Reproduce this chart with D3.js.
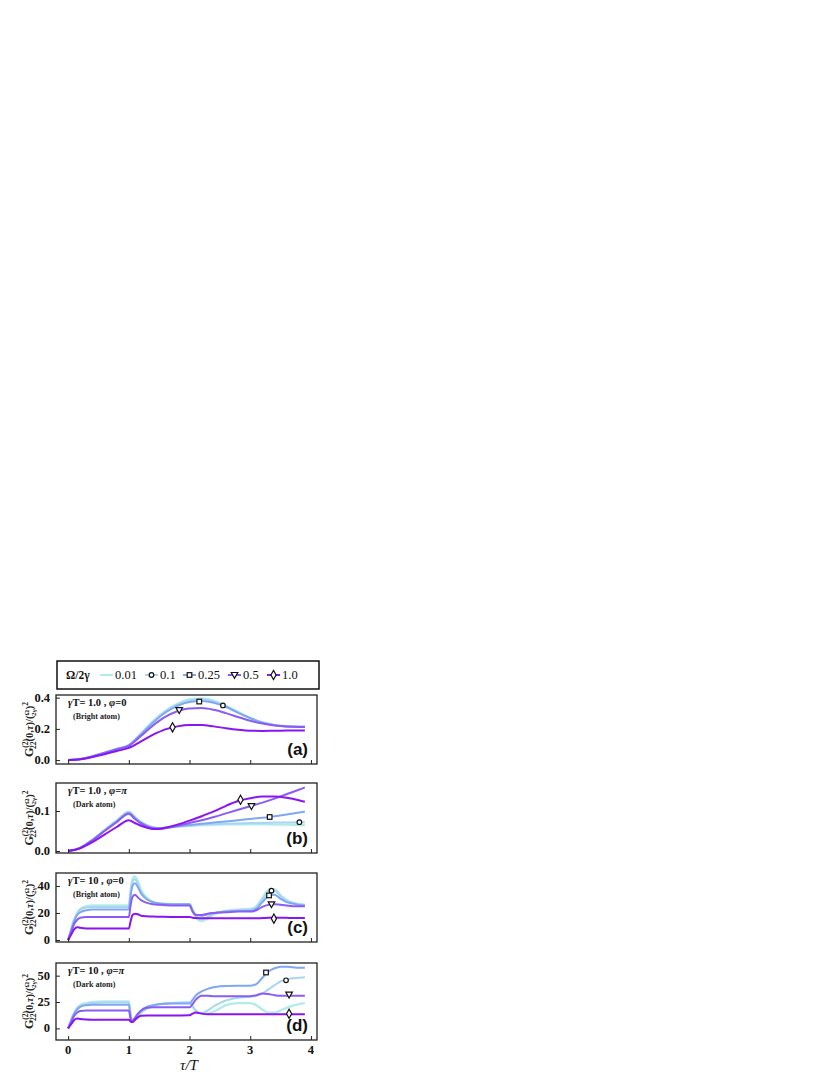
<!DOCTYPE html>
<html>
<head>
<meta charset="utf-8">
<script src="https://cdn.jsdelivr.net/npm/d3@7"></script>
<style>
  body { margin: 0; background: #fff; }
  text { font-family: "Liberation Serif", "DejaVu Serif", serif; }
</style>
</head>
<body>
<svg id="chart" width="830" height="1075"></svg>
<script>
// legend labels, colours and markers (order: 0.01, 0.1, 0.25, 0.5, 1.0)
const seriesLabels = ['0.01', '0.1', '0.25', '0.5', '1.0'];
const seriesColors = ['#b2ece8', '#a6d6f2', '#80a8f2', '#8a5cf6', '#8a14f2'];
const seriesMarkers = [null, 'circle', 'square', 'tri', 'diamond'];

const xTicks = [0, 1, 2, 3, 4];

// panel (a): gamma T = 1, phi = 0
const tauA = [0, 0.2, 0.4, 0.6, 0.8, 1.0, 1.2, 1.4, 1.6, 1.8, 2.0, 2.2, 2.4, 2.6, 2.8, 3.0, 3.2, 3.4, 3.6, 3.8, 3.9];
const a001 = [0, 0.007, 0.025, 0.048, 0.072, 0.097, 0.17, 0.25, 0.315, 0.36, 0.388, 0.395, 0.38, 0.348, 0.308, 0.27, 0.242, 0.225, 0.217, 0.214, 0.214];
const a01 = [0, 0.007, 0.025, 0.048, 0.072, 0.096, 0.168, 0.247, 0.311, 0.355, 0.382, 0.389, 0.376, 0.346, 0.307, 0.27, 0.242, 0.225, 0.217, 0.214, 0.214];
const a025 = [0, 0.007, 0.024, 0.047, 0.071, 0.095, 0.165, 0.24, 0.303, 0.347, 0.372, 0.378, 0.367, 0.34, 0.303, 0.268, 0.24, 0.224, 0.216, 0.213, 0.213];
const a05 = [0, 0.006, 0.023, 0.045, 0.068, 0.091, 0.155, 0.222, 0.277, 0.313, 0.331, 0.333, 0.322, 0.301, 0.276, 0.252, 0.234, 0.222, 0.215, 0.212, 0.212];
const a10 = [0, 0.005, 0.02, 0.038, 0.058, 0.078, 0.12, 0.163, 0.197, 0.216, 0.225, 0.225, 0.216, 0.204, 0.194, 0.188, 0.187, 0.188, 0.189, 0.19, 0.19];
const markTauA = [null, 2.55, 2.16, 1.83, 1.72];
const markValA = [null, 0.35, 0.375, 0.32, 0.21];

// panel (b): gamma T = 1, phi = pi
const tauB = [0, 0.2, 0.4, 0.6, 0.8, 1.0, 1.1, 1.2, 1.3, 1.4, 1.5, 1.6, 1.8, 2.0, 2.2, 2.4, 2.6, 2.8, 3.0, 3.2, 3.4, 3.6, 3.8, 3.9];
const b001 = [0, 0.008, 0.028, 0.052, 0.076, 0.098, 0.085, 0.073, 0.064, 0.059, 0.057, 0.058, 0.061, 0.063, 0.065, 0.066, 0.067, 0.067, 0.067, 0.067, 0.066, 0.066, 0.065, 0.065];
const b01 = [0, 0.008, 0.028, 0.052, 0.076, 0.097, 0.084, 0.072, 0.064, 0.059, 0.057, 0.058, 0.061, 0.064, 0.066, 0.067, 0.068, 0.069, 0.07, 0.07, 0.071, 0.071, 0.072, 0.072];
const b025 = [0, 0.008, 0.027, 0.051, 0.074, 0.095, 0.083, 0.071, 0.063, 0.058, 0.057, 0.058, 0.062, 0.065, 0.068, 0.071, 0.074, 0.077, 0.08, 0.083, 0.087, 0.091, 0.096, 0.099];
const b05 = [0, 0.008, 0.027, 0.05, 0.072, 0.093, 0.08, 0.069, 0.061, 0.057, 0.056, 0.057, 0.063, 0.07, 0.077, 0.085, 0.094, 0.103, 0.112, 0.121, 0.131, 0.142, 0.153, 0.159];
const b10 = [0, 0.007, 0.022, 0.041, 0.06, 0.077, 0.07, 0.063, 0.058, 0.055, 0.055, 0.058, 0.066, 0.076, 0.087, 0.099, 0.113, 0.125, 0.132, 0.136, 0.136, 0.133, 0.127, 0.123];
const markTauB = [null, 3.81, 3.32, 3.02, 2.84];
const markValB = [null, 0.072, 0.085, 0.112, 0.128];

// panel (c): gamma T = 10, phi = 0
const tauC = [0, 0.05, 0.1, 0.15, 0.2, 0.3, 0.4, 0.6, 0.8, 1.0, 1.03, 1.06, 1.1, 1.15, 1.2, 1.3, 1.4, 1.5, 1.7, 2.0, 2.05, 2.1, 2.2, 2.3, 2.4, 2.6, 2.8, 3.0, 3.1, 3.2, 3.3, 3.4, 3.5, 3.6, 3.7, 3.8, 3.9];
const c001 = [0, 8, 15, 20, 23, 25, 25.5, 25.5, 25.5, 25.5, 36, 45, 47, 43, 37, 31, 28, 27, 26.5, 26.5, 22, 17, 14, 16, 19, 21.5, 22.5, 23, 25, 31, 37, 37.5, 33, 29.5, 27.5, 26.5, 26];
const c01 = [0, 8, 15, 20, 22.5, 24, 24.5, 24.5, 24.5, 24.5, 35, 43, 45, 41.5, 36, 30.5, 28, 27, 26.5, 26.5, 22, 18, 15.5, 17, 19.5, 21.5, 22, 22.5, 24, 30, 35.5, 36.5, 32.5, 29, 27.5, 26.5, 26];
const c025 = [0, 7, 14, 18.5, 20.5, 22, 22.5, 22.5, 22.5, 22.5, 33, 40, 42, 39, 34.5, 30, 28, 27, 26.5, 26.5, 22, 19, 18, 19, 20, 21, 21.5, 21.5, 23, 28, 32.5, 33.5, 30.5, 28, 27, 26, 25.5];
const c05 = [0, 6, 12, 15, 16.5, 17, 17, 17, 17, 17, 26, 32, 33.5, 31.5, 29.5, 27.5, 26.5, 26, 25.5, 25.5, 21, 18.5, 18.5, 19.5, 20, 20.5, 21, 21, 22, 24.5, 26, 26.5, 26, 25.5, 25, 25, 25];
const c10 = [0, 4, 8, 9.5, 9, 8.5, 8.5, 8.5, 8.5, 8.5, 14, 18.5, 19.5, 19, 18, 17.5, 17.3, 17.2, 17, 17, 16.5, 16.2, 16, 16, 16, 16, 16, 16, 16, 16.2, 16.5, 16.6, 16.5, 16.4, 16.3, 16.3, 16.3];
const markTauC = [null, 3.35, 3.31, 3.35, 3.39];
const markValC = [null, 36.5, 33, 26.4, 15.8];

// panel (d): gamma T = 10, phi = pi
const tauD = [0, 0.05, 0.1, 0.15, 0.2, 0.3, 0.4, 0.6, 0.8, 1.0, 1.03, 1.06, 1.1, 1.15, 1.2, 1.3, 1.4, 1.5, 1.7, 2.0, 2.05, 2.1, 2.2, 2.3, 2.4, 2.5, 2.6, 2.8, 3.0, 3.1, 3.2, 3.3, 3.4, 3.5, 3.6, 3.7, 3.8, 3.9];
const d001 = [0, 8, 15, 19.5, 22, 24, 25, 25.5, 25.5, 25.5, 12, 7, 9, 12, 15, 19, 21.5, 23, 24, 24.5, 21, 17, 14, 14, 16, 19, 22, 24, 24, 22, 18, 15, 15, 17, 19.5, 21.5, 23, 24];
const d01 = [0, 8, 14.5, 19, 21.5, 23, 24, 24.5, 24.5, 24.5, 12, 7, 9, 12, 15, 19, 21.5, 23, 24, 24.5, 21, 17, 14.5, 17, 21, 24, 26.5, 29, 30, 31, 33, 37, 41, 44.5, 46.5, 47.5, 48, 48.5];
const d025 = [0, 7.5, 14, 18, 20.5, 22, 22.5, 22.5, 22.5, 22.5, 11, 7, 9, 13, 16.5, 20.5, 22, 23, 23.5, 23.5, 27, 31, 35, 37.5, 39, 40, 40.3, 40.5, 40.5, 42, 48, 54, 57, 58.5, 58.5, 58, 57.5, 57.5];
const d05 = [0, 6, 12, 15, 16.5, 17, 17, 17, 17, 17, 9, 7, 10, 14, 17, 19.5, 20, 20, 20, 20, 23, 27, 31, 31, 30.5, 30.5, 30.5, 30.5, 30.5, 31.5, 33, 32.5, 31.5, 31, 31, 31, 31, 31];
const d10 = [0, 4, 8, 9.5, 9, 8.5, 8.3, 8.2, 8.2, 8.2, 6.5, 6, 8, 10.5, 12, 12.3, 12.3, 12.3, 12.3, 12.5, 14, 15, 14, 13.5, 13.5, 13.5, 13.5, 13.5, 13.5, 13.5, 13.5, 13.5, 13.5, 13.5, 13.5, 13.5, 13.5, 13.5];
const markTauD = [null, 3.59, 3.26, 3.64, 3.64];
const markValD = [null, 45.6, 53, 32, 13.9];

const panels = [
  { tau: tauA, series: [a001, a01, a025, a05, a10], mTau: markTauA, mVal: markValA,
    yDomain: [-0.025, 0.417], yTicks: [0, 0.2, 0.4], fmt: d3.format('.1f'),
    top: 695, bottom: 764, gt: '1.0', phi: '0', sub: '(Bright atom)', tag: '(a)' },
  { tau: tauB, series: [b001, b01, b025, b05, b10], mTau: markTauB, mVal: markValB,
    yDomain: [-0.005, 0.17], yTicks: [0, 0.1], fmt: d3.format('.1f'),
    top: 783, bottom: 853, gt: '1.0', phi: 'π', sub: '(Dark atom)', tag: '(b)' },
  { tau: tauC, series: [c001, c01, c025, c05, c10], mTau: markTauC, mVal: markValC,
    yDomain: [-1.5, 49.6], yTicks: [0, 20, 40], fmt: d3.format('d'),
    top: 873, bottom: 942, gt: '10', phi: '0', sub: '(Bright atom)', tag: '(c)' },
  { tau: tauD, series: [d001, d01, d025, d05, d10], mTau: markTauD, mVal: markValD,
    yDomain: [-11, 62], yTicks: [0, 25, 50], fmt: d3.format('d'),
    top: 963, bottom: 1040, gt: '10', phi: 'π', sub: '(Dark atom)', tag: '(d)' }
];

const left = 56, right = 317;
const svg = d3.select('#chart');

const x = d3.scaleLinear().domain([-0.2, 4.1]).range([left, right]);

const drawMarker = (g, kind, cx, cy) => {
  const style = s => s.attr('fill', '#fff').attr('stroke', '#111').attr('stroke-width', 1.2);
  if (kind === 'circle') {
    g.append('circle').attr('cx', cx).attr('cy', cy).attr('r', 2.3).call(style);
  } else if (kind === 'square') {
    g.append('rect').attr('x', cx - 2.3).attr('y', cy - 2.3).attr('width', 4.6).attr('height', 4.6).call(style);
  } else if (kind === 'tri') {
    g.append('path').attr('transform', `translate(${cx},${cy})`)
      .attr('d', 'M-3.3,-2.5L3.3,-2.5L0,3.3Z').call(style);
  } else if (kind === 'diamond') {
    g.append('path').attr('transform', `translate(${cx},${cy})`)
      .attr('d', 'M0,-4.6L2.6,0L0,4.6L-2.6,0Z').call(style);
  }
};

panels.forEach((p, pi) => {
  const y = d3.scaleLinear().domain(p.yDomain).range([p.bottom, p.top]);
  const g = svg.append('g');

  const clipId = 'clip' + pi;
  svg.append('clipPath').attr('id', clipId)
    .append('rect').attr('x', left).attr('y', p.top).attr('width', right - left).attr('height', p.bottom - p.top);

  const line = d3.line()
    .x((d, i) => x(p.tau[i]))
    .y(d => y(d))
    .curve(d3.curveMonotoneX);

  const lines = g.append('g').attr('clip-path', `url(#${clipId})`);
  p.series.forEach((s, i) => {
    lines.append('path')
      .attr('d', line(s))
      .attr('fill', 'none')
      .attr('stroke', seriesColors[i])
      .attr('stroke-width', i === 0 ? 2.4 : 2)
      .attr('stroke-linejoin', 'round');
  });

  p.mTau.forEach((t, i) => {
    if (t === null) return;
    drawMarker(g, seriesMarkers[i], x(t), y(p.mVal[i]));
  });

  // frame
  g.append('rect')
    .attr('x', left).attr('y', p.top)
    .attr('width', right - left).attr('height', p.bottom - p.top)
    .attr('fill', 'none').attr('stroke', '#222').attr('stroke-width', 1.3);

  // inward ticks
  const xAxis = g.append('g').attr('transform', `translate(0,${p.bottom})`)
    .call(d3.axisTop(x).tickValues(xTicks).tickSize(4).tickFormat(''));
  xAxis.select('.domain').remove();
  xAxis.selectAll('line').attr('stroke', '#222').attr('stroke-width', 1);

  const yAxis = g.append('g').attr('transform', `translate(${left},0)`)
    .call(d3.axisRight(y).tickValues(p.yTicks).tickSize(4).tickFormat(''));
  yAxis.select('.domain').remove();
  yAxis.selectAll('line').attr('stroke', '#222').attr('stroke-width', 1);

  g.selectAll('.ylab')
    .data(p.yTicks)
    .enter()
    .append('text')
    .attr('x', left - 6)
    .attr('y', d => y(d) + 4)
    .attr('text-anchor', 'end')
    .attr('font-weight', 'bold')
    .attr('font-size', 12.5)
    .attr('fill', '#111')
    .text(d => p.fmt(d));

  if (pi === panels.length - 1) {
    g.selectAll('.xlab')
      .data(xTicks)
      .enter()
      .append('text')
      .attr('x', d => x(d))
      .attr('y', p.bottom + 14)
      .attr('text-anchor', 'middle')
      .attr('font-weight', 'bold')
      .attr('font-size', 12.5)
      .attr('fill', '#111')
      .text(d => d);
  }

  // annotations
  const title = g.append('text')
    .attr('x', 68).attr('y', p.top + 11)
    .attr('font-weight', 'bold').attr('font-size', 10.5).attr('fill', '#111');
  title.append('tspan').attr('font-style', 'italic').text('γ');
  title.append('tspan').text(`T= ${p.gt} , `);
  title.append('tspan').attr('font-style', 'italic').text('φ');
  title.append('tspan').text('=');
  title.append('tspan').attr('font-style', p.phi === 'π' ? 'italic' : null).text(p.phi);
  g.append('text')
    .attr('x', 73).attr('y', p.top + 24)
    .attr('font-weight', 'bold').attr('font-size', 8).attr('fill', '#222')
    .text(p.sub);
  g.append('text')
    .attr('x', right - 9).attr('y', p.bottom - 9)
    .attr('text-anchor', 'end')
    .style('font-family', '"Liberation Sans", Arial, sans-serif')
    .attr('font-weight', 'bold').attr('font-size', 17).attr('fill', '#111')
    .text(p.tag);

  // y label
  const cy = (p.top + p.bottom) / 2;
  const lab = g.append('text')
    .attr('transform', `translate(33,${cy}) rotate(-90)`)
    .attr('text-anchor', 'middle')
    .attr('font-weight', 'bold')
    .attr('font-size', 12)
    .attr('fill', '#222');
  lab.append('tspan').text('G');
  lab.append('tspan').attr('font-size', 7.5).attr('dy', -5).text('(2)');
  lab.append('tspan').attr('font-size', 7.5).attr('dx', -10).attr('dy', 8).text('22');
  lab.append('tspan').attr('font-size', 10.5).attr('dy', -3).text('(0,');
  lab.append('tspan').attr('font-size', 10.5).attr('font-style', 'italic').text('τ');
  lab.append('tspan').attr('font-size', 10.5).text(')/(');
  lab.append('tspan').attr('font-size', 7).attr('dy', -4).text('Ω');
  lab.append('tspan').attr('font-size', 7).attr('dx', -6).attr('dy', 7).text('2γ');
  lab.append('tspan').attr('font-size', 10.5).attr('dy', -3).text(')');
  lab.append('tspan').attr('font-size', 7.5).attr('dy', -5).text('2');
});

// x axis label
svg.append('text')
  .attr('x', 189).attr('y', 1070)
  .attr('text-anchor', 'middle')
  .attr('font-style', 'italic')
  .attr('font-size', 15)
  .attr('fill', '#111')
  .text('τ/T');

// legend
const legend = svg.append('g');
legend.append('rect')
  .attr('x', 57).attr('y', 661).attr('width', 262).attr('height', 28)
  .attr('fill', '#fff').attr('stroke', '#111').attr('stroke-width', 1.5);
legend.append('text')
  .attr('x', 66).attr('y', 679)
  .attr('font-weight', 'bold').attr('font-size', 11.5).attr('fill', '#111')
  .text('Ω/2γ');
const itemX = [100, 145, 183, 228, 267];
seriesLabels.forEach((lbl, i) => {
  const x0 = itemX[i];
  legend.append('line')
    .attr('x1', x0).attr('x2', x0 + 13).attr('y1', 675).attr('y2', 675)
    .attr('stroke', seriesColors[i]).attr('stroke-width', 2);
  if (seriesMarkers[i]) drawMarker(legend, seriesMarkers[i], x0 + 6.5, 675);
  legend.append('text')
    .attr('x', x0 + 15).attr('y', 679)
    .attr('font-size', 12.5).attr('fill', '#111')
    .text(lbl);
});
</script>
</body>
</html>
